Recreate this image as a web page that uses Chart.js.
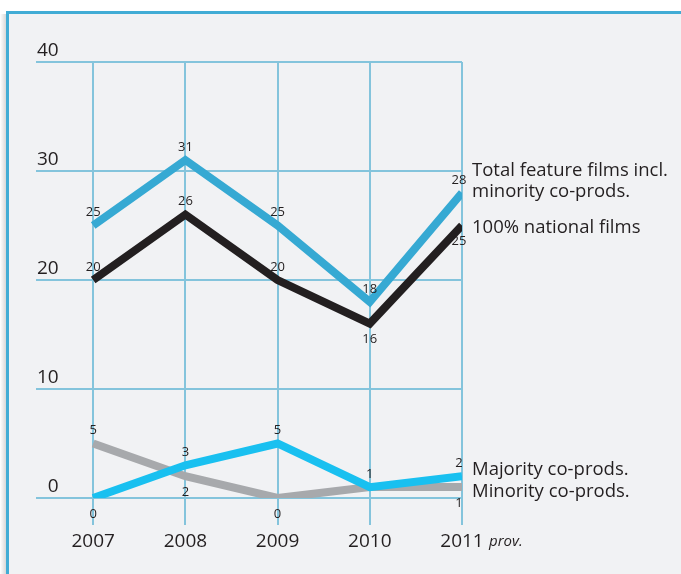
<!DOCTYPE html>
<html>
<head>
<meta charset="utf-8">
<script src="https://cdn.jsdelivr.net/npm/chart.js@4.4.0/dist/chart.umd.min.js"></script>
<style>
  html, body { margin: 0; padding: 0; background: #fff; }
  canvas { display: block; }
</style>
</head>
<body>
<canvas id="myChart" width="681" height="574"></canvas>
<script>
// data
const years = [2007, 2008, 2009, 2010, 2011];
const yTicks = [0, 10, 20, 30, 40];
const totalFilms = [25, 31, 25, 18, 28];
const nationalFilms = [20, 26, 20, 16, 25];
const majorityCoprods = [0, 3, 5, 1, 2];
const minorityCoprods = [5, 2, 0, 1, 1];

const FONT = '"Open Sans", sans-serif';
const gridColor = '#84c4dc';

// where the small value labels go: -1 above, 1 below, 0 none
const labelSide = {
    total: [-1, -1, -1, -1, -1],
    national: [-1, -1, -1, 1, 1],
    majority: [1, -1, -1, -1, -1],
    minority: [-1, 1, 1, 0, 1]
};

function pts(values) {
    return years.map((yr, i) => ({ x: yr, y: values[i] }));
}

// frame + background
const framePlugin = {
    id: 'frame',
    beforeDraw(chart) {
        const c = chart.ctx;
        c.save();
        c.fillStyle = '#ffffff';
        c.fillRect(0, 0, chart.width, chart.height);
        // soft shadow on the left
        const g = c.createLinearGradient(0, 0, 7, 0);
        g.addColorStop(0, 'rgba(0,0,0,0)');
        g.addColorStop(1, 'rgba(0,0,0,0.18)');
        c.fillStyle = g;
        c.fillRect(0, 14, 7, chart.height);
        c.fillStyle = '#f1f2f4';
        c.fillRect(7, 12, chart.width, chart.height);
        c.fillStyle = '#41acd5';
        c.fillRect(6, 11, 3, chart.height);
        c.fillRect(6, 11, chart.width, 3);
        c.restore();
    }
};

// value labels + series names
const labelPlugin = {
    id: 'labels',
    afterDatasetsDraw(chart) {
        const c = chart.ctx;
        const keys = ['total', 'national', 'majority', 'minority'];
        c.save();
        c.fillStyle = '#231f20';
        c.textAlign = 'center';
        c.textBaseline = 'middle';
        c.font = '13px ' + FONT;
        chart.data.datasets.forEach((ds, di) => {
            const meta = chart.getDatasetMeta(di);
            const side = labelSide[keys[di]];
            meta.data.forEach((p, i) => {
                if (!side[i]) return;
                const dx = i === years.length - 1 ? -3 : 0;
                const dy = side[i] < 0 ? -13 : 16;
                c.fillText(String(ds.data[i].y), p.x + dx, p.y + dy);
            });
        });

        // series names at the right end
        c.textAlign = 'left';
        c.font = '18.5px ' + FONT;
        const last = years.length - 1;
        const xs = chart.scales.x.getPixelForValue(years[last]) + 10;
        const yOf = (arr) => chart.scales.y.getPixelForValue(arr[last]);
        c.fillText('Total feature films incl.', xs, yOf(totalFilms) - 22);
        c.fillText('minority co-prods.', xs, yOf(totalFilms) - 1);
        c.fillText('100% national films', xs, yOf(nationalFilms) + 2);
        c.fillText('Majority co-prods.', xs, yOf(majorityCoprods) - 6);
        c.fillText('Minority co-prods.', xs, yOf(minorityCoprods) + 5);

        // "prov." after 2011
        c.font = 'italic 15px ' + FONT;
        c.fillText('prov.', xs + 17, 542);
        c.restore();
    }
};

const ctx = document.getElementById('myChart').getContext('2d');

const myChart = new Chart(ctx, {
    type: 'line',
    data: {
        datasets: [
            { label: 'Total feature films incl. minority co-prods.', data: pts(totalFilms), borderColor: '#36a9d3' },
            { label: '100% national films', data: pts(nationalFilms), borderColor: '#231f20' },
            { label: 'Majority co-prods.', data: pts(majorityCoprods), borderColor: '#19c0f0' },
            { label: 'Minority co-prods.', data: pts(minorityCoprods), borderColor: '#a7a9ac' }
        ]
    },
    options: {
        responsive: false,
        animation: false,
        layout: { padding: { left: 36, right: 219, top: 62, bottom: 0 } },
        elements: {
            line: { borderWidth: 8, tension: 0, borderJoinStyle: 'miter', borderCapStyle: 'butt' },
            point: { radius: 0 }
        },
        scales: {
            x: {
                type: 'linear',
                min: 2006.38,
                max: 2011,
                afterBuildTicks: (s) => { s.ticks = years.map(v => ({ value: v })); },
                afterFit: (s) => { s.height = 76; },
                border: { display: false },
                grid: { color: gridColor, lineWidth: 2, drawTicks: true, tickLength: 27, tickColor: gridColor },
                ticks: {
                    callback: (v) => String(v),
                    color: '#231f20',
                    padding: 5,
                    maxRotation: 0,
                    font: { family: FONT, size: 19 }
                }
            },
            y: {
                min: 0,
                max: 40,
                afterBuildTicks: (s) => { s.ticks = yTicks.map(v => ({ value: v })); },
                afterFit: (s) => { s.width = 0; },
                border: { display: false },
                grid: { color: gridColor, lineWidth: 2, drawTicks: false },
                ticks: {
                    mirror: true,
                    crossAlign: 'far',
                    padding: 1,
                    labelOffset: -11,
                    color: '#231f20',
                    font: { family: FONT, size: 19 }
                }
            }
        },
        plugins: {
            legend: { display: false },
            tooltip: { enabled: false }
        }
    },
    plugins: [framePlugin, labelPlugin]
});
</script>
</body>
</html>
